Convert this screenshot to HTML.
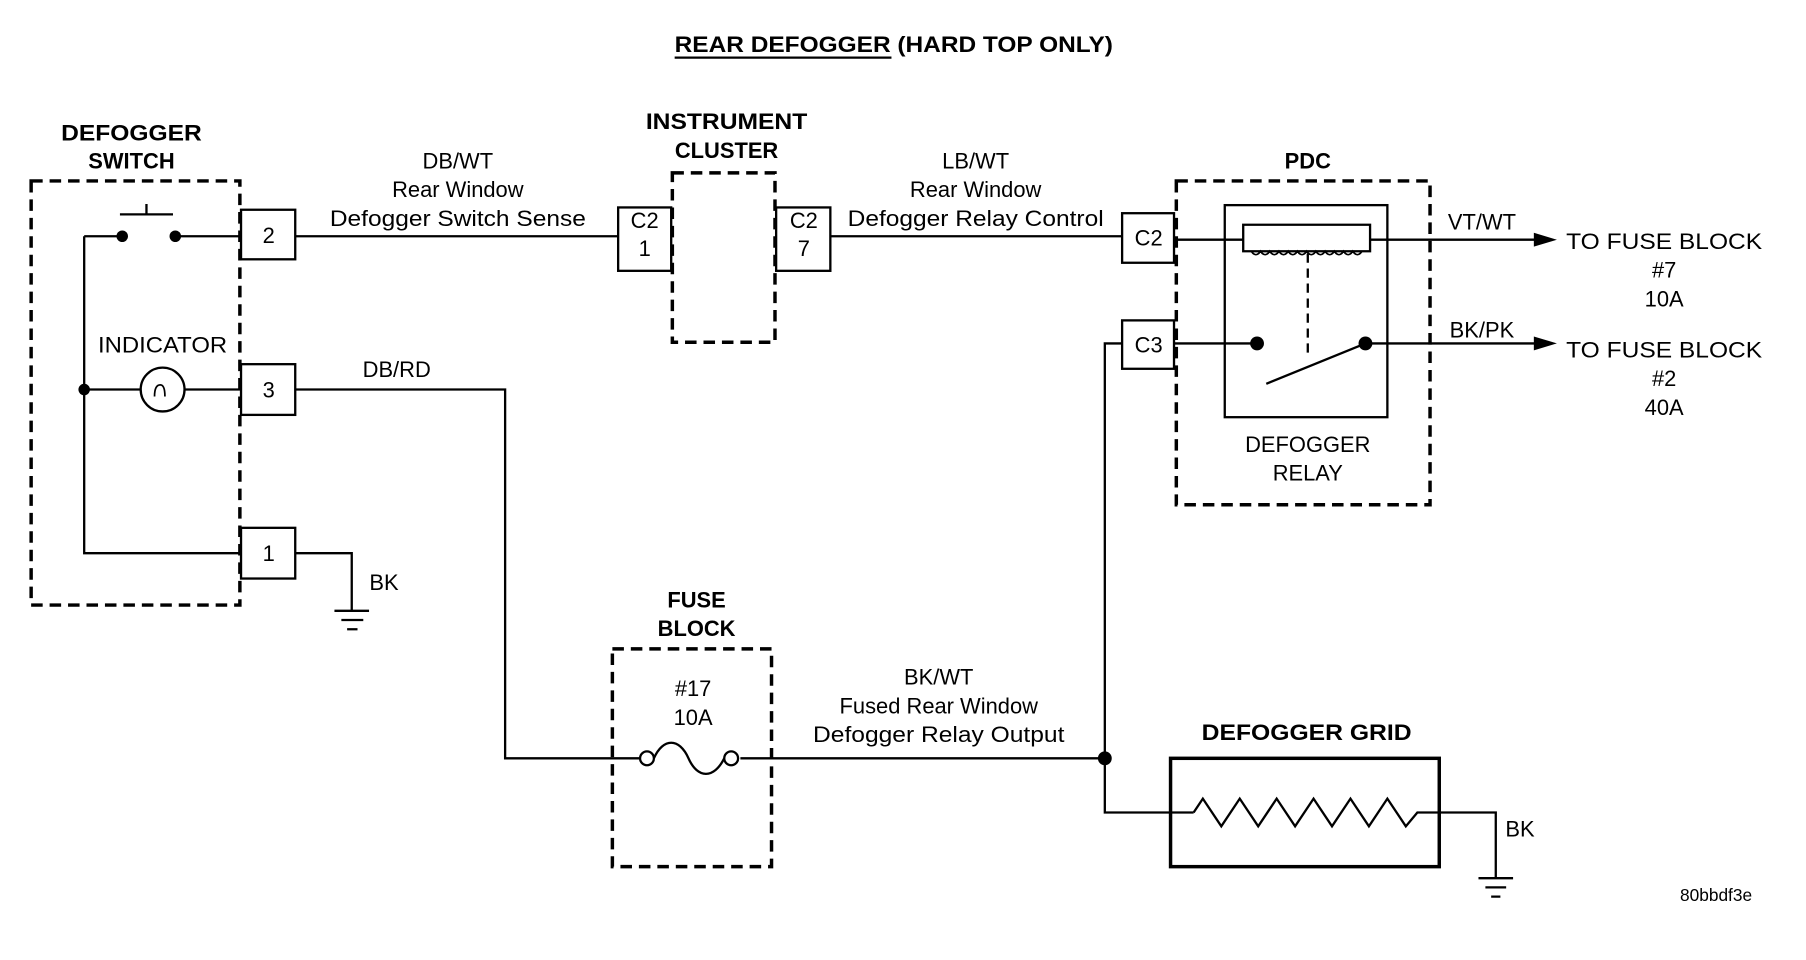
<!DOCTYPE html>
<html><head><meta charset="utf-8"><style>html,body{margin:0;padding:0;background:#fff}svg{display:block}</style></head>
<body>
<svg width="1806" height="960" viewBox="0 0 1566 833" preserveAspectRatio="none" xmlns="http://www.w3.org/2000/svg" font-family="Liberation Sans, sans-serif" font-size="19" fill="none" stroke="#000" stroke-width="2">
<g fill="#000" stroke="none" text-anchor="middle">
<text x="775" y="45" font-weight="bold" font-size="19" textLength="380" lengthAdjust="spacingAndGlyphs">REAR DEFOGGER (HARD TOP ONLY)</text>
<text x="114" y="122" font-weight="bold" textLength="122" lengthAdjust="spacingAndGlyphs">DEFOGGER</text><text x="114" y="146" font-weight="bold">SWITCH</text>
<text x="630" y="112" font-weight="bold" textLength="140" lengthAdjust="spacingAndGlyphs">INSTRUMENT</text><text x="630" y="137" font-weight="bold">CLUSTER</text>
<text x="1134" y="146" font-weight="bold">PDC</text>
<text x="604" y="527" font-weight="bold">FUSE</text><text x="604" y="552" font-weight="bold">BLOCK</text>
<text x="1133" y="642" font-weight="bold" textLength="182" lengthAdjust="spacingAndGlyphs">DEFOGGER GRID</text>
<text x="397" y="146">DB/WT</text><text x="397" y="171">Rear Window</text><text x="397" y="196" textLength="222" lengthAdjust="spacingAndGlyphs">Defogger Switch Sense</text>
<text x="846" y="146">LB/WT</text><text x="846" y="171">Rear Window</text><text x="846" y="196" textLength="222" lengthAdjust="spacingAndGlyphs">Defogger Relay Control</text>
<text x="814" y="594">BK/WT</text><text x="814" y="619">Fused Rear Window</text><text x="814" y="644" textLength="218" lengthAdjust="spacingAndGlyphs">Defogger Relay Output</text>
<text x="141" y="306" textLength="112" lengthAdjust="spacingAndGlyphs">INDICATOR</text>
<text x="344" y="327">DB/RD</text>
<text x="333" y="512">BK</text><text x="1318" y="726">BK</text>
<text x="233" y="211">2</text><text x="233" y="345">3</text><text x="233" y="487">1</text>
<text x="559" y="198">C2</text><text x="559" y="222">1</text>
<text x="697" y="198">C2</text><text x="697" y="222">7</text>
<text x="996" y="213">C2</text><text x="996" y="306">C3</text>
<text x="601" y="604">#17</text><text x="601" y="629">10A</text>
<text x="1134" y="392">DEFOGGER</text><text x="1134" y="417">RELAY</text>
<text x="1285" y="199">VT/WT</text><text x="1285" y="293">BK/PK</text>
<text x="1443" y="216" textLength="170" lengthAdjust="spacingAndGlyphs">TO FUSE BLOCK</text><text x="1443" y="241">#7</text><text x="1443" y="266">10A</text>
<text x="1443" y="310" textLength="170" lengthAdjust="spacingAndGlyphs">TO FUSE BLOCK</text><text x="1443" y="335">#2</text><text x="1443" y="360">40A</text>
<text x="1488" y="782" font-size="15">80bbdf3e</text>
</g>
<line x1="585" y1="50" x2="773" y2="50"/>
<g stroke-dasharray="10,6" stroke-width="3">
<rect x="27" y="157" width="181" height="368"/>
<rect x="583" y="150" width="89" height="147"/>
<rect x="1020" y="157" width="220" height="281"/>
<rect x="531" y="563" width="138" height="189"/>
</g>
<rect x="209" y="182" width="47" height="43"/><rect x="209" y="316" width="47" height="44"/><rect x="209" y="458" width="47" height="44"/>
<rect x="536" y="180" width="46" height="55"/><rect x="673" y="180" width="47" height="55"/>
<rect x="973" y="185" width="45" height="43"/><rect x="973" y="278" width="45" height="42"/>
<rect x="1062" y="178" width="141" height="184"/>
<rect x="1015" y="658" width="233" height="94" stroke-width="3"/>
<path d="M104 186H150M127 177V186M152 205H209M73 205H106M73 205V480H209M73 338H122M160 338H209"/>
<circle cx="141" cy="338" r="19"/>
<path d="M134 344q0-10 5-10q4 0 4 10" stroke-width="1.5"/>
<g fill="#000" stroke="none"><circle cx="106" cy="205" r="5"/><circle cx="152" cy="205" r="5"/><circle cx="73" cy="338" r="5"/><circle cx="958" cy="658" r="6"/><circle cx="1090" cy="298" r="6"/><circle cx="1184" cy="298" r="6"/></g>
<path d="M256 205H536M720 205H973M256 338H438V658H555M256 480H305V530"/>
<path d="M290 530H320M296 538H315M301 546H310M1282 762H1312M1288 770H1306M1293 778H1301"/>
<path d="M1018 208H1078M1078 195H1188V218H1078ZM1188 208H1335M1018 298H1090M1184 298H1335M1098 333L1184 298"/>
<path d="M1085 218q4 6 8 0q4 6 8 0q4 6 8 0q4 6 8 0q4 6 8 0q4 6 8 0q4 6 8 0q4 6 8 0q4 6 8 0q4 6 8 0q4 6 8 0q4 6 8 0" stroke-width="1.5"/>
<path d="M1134 220V306" stroke-dasharray="8,5"/>
<g fill="#000" stroke="none"><path d="M1350 208L1330 202V214Z"/><path d="M1350 298L1330 292V304Z"/></g>
<path d="M973 298H958V705H1035M642 658H958"/>
<path d="M1035 705l8 -12 16 24 16 -24 16 24 16 -24 16 24 16 -24 16 24 16 -24 16 24 16 -24 16 24 10 -12H1297V762"/>
<circle cx="561" cy="658" r="6"/><circle cx="634" cy="658" r="6"/>
<path d="M567 658c8-18 22-18 30 0s22 18 31 0"/>
</svg>
</body></html>
